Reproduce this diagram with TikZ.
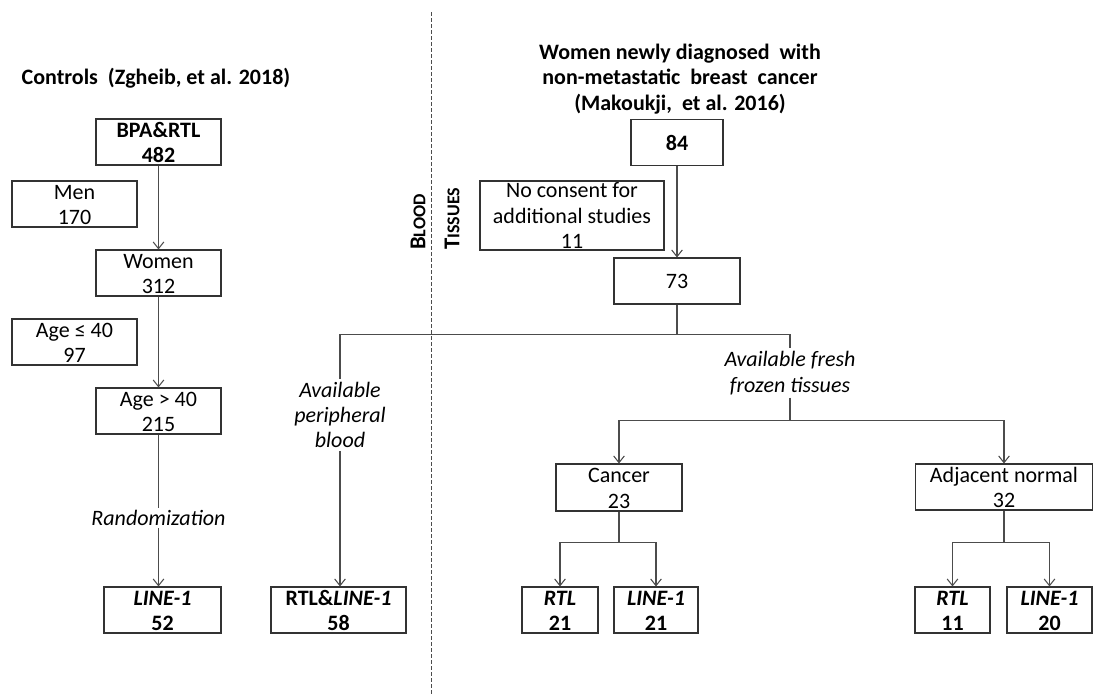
\documentclass[tikz,border=0pt]{standalone}
\usepackage{fontspec}
\setmainfont{Carlito}
\usetikzlibrary{arrows.meta}

\newcommand{\bodyfont}{\fontsize{16.5}{19}\selectfont}
\newcommand{\lift}{\rule{0pt}{12pt}}

\begin{document}
\begin{tikzpicture}[x=0.75pt, y=-0.75pt,
    box/.style={draw=black!80, line width=0.8pt, align=center, inner sep=0pt,
        minimum height=46*0.75pt, font=\bodyfont},
    bbox/.style={box, font=\bodyfont\bfseries},
    bw/.style={minimum width=#1*0.75pt},
    bh/.style={minimum height=#1*0.75pt},
    lbl/.style={font=\bodyfont\itshape, align=center, inner sep=2pt},
    conn/.style={draw=black!70, line width=0.8pt},
    arr/.style={conn, -{Straight Barb[length=5pt,width=8pt]}}]

    \useasboundingbox (0,0) rectangle (1093,696);

    % controls
    \node [font=\bodyfont\bfseries, anchor=west] (ctrl) at (17,78) {Controls~ (Zgheib, et al. 2018)};
    \node [bbox, bw=125] (bpa) at (158.5,142) {\lift BPA\&RTL\\482};
    \node [box, bw=125] (men) at (74.5,204) {\lift Men\\170};
    \node [box, bw=125] (women) at (158.5,273) {\lift Women\\312};
    \node [box, bw=125] (agele) at (74.5,342) {\lift Age ≤ 40\\97};
    \node [box, bw=125] (agegt) at (158.5,411) {\lift Age > 40\\215};
    \node [bbox, bw=117] (lineA) at (162.5,610) {\lift\textit{LINE-1}\\52};
    \node [bbox, bw=135] (rtlB) at (338.5,610) {\lift RTL\&\textit{LINE-1}\\58};
    \node [lbl] (peri) at (340,415) {Available\\peripheral\\blood};

    % separator
    \coordinate (dtop) at (431,12);
    \coordinate (dbot) at (431,696);
    \draw [black!70, line width=0.7pt, dash pattern=on 3pt off 1.5pt] (dtop) -- (dbot);
    \node [font=\fontsize{17}{19}\selectfont\bfseries, rotate=90, anchor=west, inner sep=0pt] (blood) at (418,250)
        {B{\fontsize{13.5}{15}\selectfont LOOD}};
    \node [font=\fontsize{17}{19}\selectfont\bfseries, rotate=90, anchor=west, inner sep=0pt] (tissue) at (452,250)
        {T{\fontsize{13.5}{15}\selectfont ISSUES}};

    % patients
    \node [font=\bodyfont\bfseries, align=center] (head) at (680,79)
        {Women newly diagnosed~ with\\non-metastatic~ breast~ cancer\\(Makoukji,~ et al. 2016)};
    \node [bbox, bw=92] (n84) at (677,142.5) {84};
    \node [box, bw=184, bh=69] (nocons) at (572,215.5) {No consent for\\additional studies\\11};
    \node [box, bw=126] (n73) at (677,281) {73};
    \node [lbl] (fresh) at (790,373) {Available fresh\\frozen tissues};
    \node [box, bw=126, bh=47] (cancer) at (619,487.5) {\lift Cancer\\23};
    \node [box, bw=177] (adj) at (1004,487) {\lift Adjacent normal\\32};
    \node [bbox, bw=76] (rtlC) at (560,610) {\lift\textit{RTL}\\21};
    \node [bbox, bw=84] (lineC) at (656,610) {\lift\textit{LINE-1}\\21};
    \node [bbox, bw=75] (rtlN) at (952.5,610) {\lift\textit{RTL}\\11};
    \node [bbox, bw=85] (lineN) at (1049.5,610) {\lift\textit{LINE-1}\\20};

    % connectors
    \draw [arr] (bpa) -- (women);
    \draw [arr] (women) -- (agegt);
    \draw [arr] (agegt.south) -- node [lbl, fill=white, pos=0.55] {Randomization} (agegt.south |- lineA.north);
    \draw [arr] (peri.south) -- (peri.south |- rtlB.north);
    \draw [arr] (n84) -- (n73);
    \draw [conn] (n73.south) -- ++(0,30) coordinate (tsplit);
    \draw [conn] (tsplit) -| (peri.north);
    \draw [conn] (tsplit) -| (fresh.north);
    \draw [conn] (fresh.south) -- ++(0,23) coordinate (fsplit);
    \draw [arr] (fsplit) -| (cancer.north);
    \draw [arr] (fsplit) -| (adj.north);
    \draw [conn] (cancer.south) -- ++(0,31) coordinate (csplit);
    \draw [arr] (csplit) -| (rtlC.north);
    \draw [arr] (csplit) -| (lineC.north);
    \draw [conn] (adj.south) -- ++(0,32) coordinate (asplit);
    \draw [arr] (asplit) -| (rtlN.north);
    \draw [arr] (asplit) -| (lineN.north);

\end{tikzpicture}
\end{document}
